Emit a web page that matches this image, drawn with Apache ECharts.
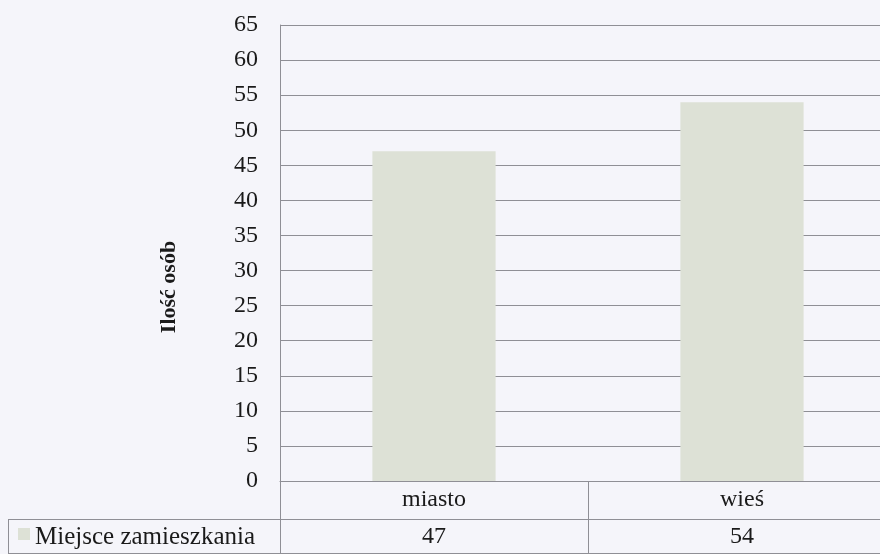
<!DOCTYPE html>
<html>
<head>
<meta charset="utf-8">
<script src="https://cdn.jsdelivr.net/npm/echarts@6/dist/echarts.min.js"></script>
<style>
html,body{margin:0;padding:0;background:#f5f5fa;overflow:hidden;width:880px;height:554px;}
#c{width:896px;height:554px;}
</style>
</head>
<body>
<div id="c"></div>
<script>
const categories = ['miasto', 'wieś'];
const values = [47, 54];
const seriesName = 'Miejsce zamieszkania';
const yTicks = { min: 0, max: 65, interval: 5 };

const FONT = 'Liberation Serif';
const LINE = '#8f8f95';
const TXT = '#1a1a1a';
const BAR = '#dde1d6';

const chart = echarts.init(document.getElementById('c'), null, { renderer: 'canvas' });
const gridLeft = 280, gridTop = 25, gridBottom = 73, gridRight = 0;
const H = 554;
const axisY = H - gridBottom;
const row2Y = axisY + 38;
const row3Y = H - 1;

chart.setOption({
  backgroundColor: '#f5f5fa',
  animation: false,
  grid: { left: gridLeft, top: gridTop, bottom: gridBottom, right: gridRight, containLabel: false },
  xAxis: [
    {
      type: 'category',
      data: categories,
      position: 'bottom',
      axisLine: { show: true, lineStyle: { color: LINE, width: 1 } },
      axisTick: { show: true, alignWithLabel: false, length: row3Y - axisY, lineStyle: { color: LINE, width: 1 } },
      axisLabel: { color: TXT, fontFamily: FONT, fontSize: 24, margin: 7 }
    },
    {
      type: 'category',
      data: values.map(String),
      position: 'bottom',
      offset: row2Y - axisY,
      axisLine: { show: true, lineStyle: { color: LINE, width: 1 } },
      axisTick: { show: false },
      axisLabel: { color: TXT, fontFamily: FONT, fontSize: 24, margin: 6 }
    },
    {
      type: 'category',
      data: categories,
      position: 'bottom',
      offset: row3Y - axisY,
      axisLine: { show: true, lineStyle: { color: LINE, width: 1 } },
      axisTick: { show: false },
      axisLabel: { show: false }
    }
  ],
  yAxis: {
    type: 'value',
    min: yTicks.min, max: yTicks.max, interval: yTicks.interval,
    name: 'Ilość osób',
    nameLocation: 'middle',
    nameGap: 100,
    nameRotate: 90,
    nameTextStyle: { color: TXT, fontFamily: FONT, fontSize: 22, fontWeight: 'bold', padding: [0, 68, 0, 0] },
    axisLine: { show: true, lineStyle: { color: LINE, width: 1 } },
    axisTick: { show: false },
    axisLabel: { color: TXT, fontFamily: FONT, fontSize: 24, margin: 22 },
    splitLine: { show: true, lineStyle: { color: LINE, width: 1 } }
  },
  series: [{
    name: seriesName,
    type: 'bar',
    data: values,
    barWidth: '40%',
    itemStyle: { color: BAR },
    xAxisIndex: 0
  }],
  graphic: [
    { type: 'line', shape: { x1: 8, y1: row2Y + 0.5, x2: gridLeft, y2: row2Y + 0.5 }, style: { stroke: LINE, lineWidth: 1 } },
    { type: 'line', shape: { x1: 8, y1: row3Y + 0.5, x2: gridLeft, y2: row3Y + 0.5 }, style: { stroke: LINE, lineWidth: 1 } },
    { type: 'line', shape: { x1: 8.5, y1: row2Y, x2: 8.5, y2: row3Y }, style: { stroke: LINE, lineWidth: 1 } },
    { type: 'rect', shape: { x: 18, y: row2Y + 9, width: 12, height: 12 }, style: { fill: BAR } },
    { type: 'text', x: 35, y: (row2Y + row3Y) / 2 + 1, style: { text: seriesName, fontFamily: FONT, fontSize: 25, fill: TXT, verticalAlign: 'middle', textAlign: 'left' } }
  ]
});
</script>
</body>
</html>
